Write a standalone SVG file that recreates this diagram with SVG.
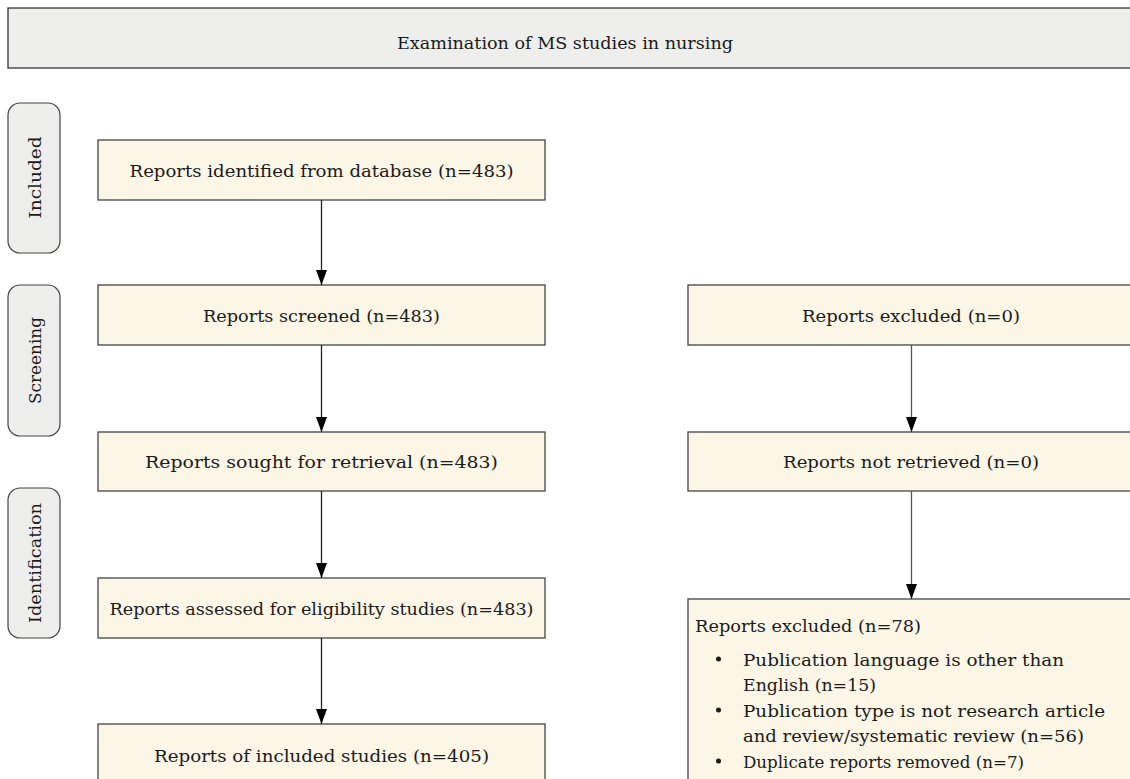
<svg xmlns="http://www.w3.org/2000/svg" width="1130" height="779" viewBox="0 0 1130 779">
  <style>
    .hdr { fill: #eeeeec; stroke: #333; stroke-width: 1.3; }
    .side { fill: #eeeeec; stroke: #444; stroke-width: 1.2; }
    .box { fill: #fcf6e7; stroke: #444; stroke-width: 1.3; }
    .t { font-family: "DejaVu Serif", "Liberation Serif", serif; font-size: 17.5px; fill: #1a1a1a; }
    .tc { text-anchor: middle; }
    .conn { stroke: #222; stroke-width: 1.3; fill: none; }
    .conn2 { stroke: #555; stroke-width: 1.3; fill: none; }
  </style>
  <defs>
    <marker id="arrd" markerUnits="userSpaceOnUse" markerWidth="16" markerHeight="12" refX="15" refY="6" orient="auto" viewBox="0 0 16 12">
      <path d="M0,0.5 L15,6 L0,11.5 Z" fill="#000"/>
    </marker>
  </defs>

  <g id="header">
    <rect class="hdr" x="8" y="8" width="1140" height="60"/>
    <text class="t tc" x="565" y="48.5" font-size="17" textLength="336" lengthAdjust="spacingAndGlyphs">Examination of MS studies in nursing</text>
  </g>

  <g id="stage-included">
    <rect class="side" x="8" y="103" width="52" height="150" rx="12" ry="12"/>
    <text class="t tc" transform="translate(40.5,177.5) rotate(-90)" font-size="16.5" textLength="82" lengthAdjust="spacingAndGlyphs">Included</text>
  </g>
  <g id="stage-screening">
    <rect class="side" x="8" y="285" width="52" height="151" rx="12" ry="12"/>
    <text class="t tc" transform="translate(40.5,360.5) rotate(-90)" font-size="16.5" textLength="87" lengthAdjust="spacingAndGlyphs">Screening</text>
  </g>
  <g id="stage-identification">
    <rect class="side" x="8" y="488" width="52" height="150" rx="12" ry="12"/>
    <text class="t tc" transform="translate(40.5,563) rotate(-90)" font-size="16.5" textLength="120" lengthAdjust="spacingAndGlyphs">Identification</text>
  </g>

  <g id="n-identified">
    <rect class="box" x="98" y="140" width="447" height="60"/>
    <text class="t tc" x="321.5" y="176.5" textLength="384" lengthAdjust="spacingAndGlyphs">Reports identified from database (n=483)</text>
  </g>
  <g id="n-screened">
    <rect class="box" x="98" y="285" width="447" height="60"/>
    <text class="t tc" x="321.5" y="321.5" textLength="237" lengthAdjust="spacingAndGlyphs">Reports screened (n=483)</text>
  </g>
  <g id="n-sought">
    <rect class="box" x="98" y="432" width="447" height="59"/>
    <text class="t tc" x="321.5" y="468" textLength="353" lengthAdjust="spacingAndGlyphs">Reports sought for retrieval (n=483)</text>
  </g>
  <g id="n-assessed">
    <rect class="box" x="98" y="578" width="447" height="60"/>
    <text class="t tc" x="321.5" y="614.5" textLength="424" lengthAdjust="spacingAndGlyphs">Reports assessed for eligibility studies (n=483)</text>
  </g>
  <g id="n-included">
    <rect class="box" x="98" y="724" width="447" height="70"/>
    <text class="t tc" x="321.5" y="761.5" textLength="335" lengthAdjust="spacingAndGlyphs">Reports of included studies (n=405)</text>
  </g>

  <g id="n-excluded0">
    <rect class="box" x="688" y="285" width="460" height="60"/>
    <text class="t tc" x="911" y="321.5" textLength="218" lengthAdjust="spacingAndGlyphs">Reports excluded (n=0)</text>
  </g>
  <g id="n-notretrieved">
    <rect class="box" x="688" y="432" width="460" height="59"/>
    <text class="t tc" x="911" y="468" textLength="256" lengthAdjust="spacingAndGlyphs">Reports not retrieved (n=0)</text>
  </g>
  <g id="n-excluded78">
    <rect class="box" x="688" y="599" width="460" height="200"/>
    <text class="t" x="695" y="632" textLength="226" lengthAdjust="spacingAndGlyphs">Reports excluded (n=78)</text>
    <circle cx="718.5" cy="659" r="2.5" fill="#1a1a1a"/>
    <text class="t" x="743" y="665.5" textLength="321" lengthAdjust="spacingAndGlyphs">Publication language is other than</text>
    <text class="t" x="743" y="690.5" textLength="133" lengthAdjust="spacingAndGlyphs">English (n=15)</text>
    <circle cx="718.5" cy="710" r="2.5" fill="#1a1a1a"/>
    <text class="t" x="743" y="716.5" textLength="362" lengthAdjust="spacingAndGlyphs">Publication type is not research article</text>
    <text class="t" x="743" y="742" textLength="341" lengthAdjust="spacingAndGlyphs">and review/systematic review (n=56)</text>
    <circle cx="718.5" cy="761" r="2.5" fill="#1a1a1a"/>
    <text class="t" x="743" y="767.5" textLength="281" lengthAdjust="spacingAndGlyphs">Duplicate reports removed (n=7)</text>
  </g>

  <g id="connectors">
    <line class="conn" x1="321.5" y1="200" x2="321.5" y2="285" marker-end="url(#arrd)"/>
    <line class="conn" x1="321.5" y1="345" x2="321.5" y2="432" marker-end="url(#arrd)"/>
    <line class="conn" x1="321.5" y1="491" x2="321.5" y2="578" marker-end="url(#arrd)"/>
    <line class="conn" x1="321.5" y1="638" x2="321.5" y2="724" marker-end="url(#arrd)"/>
    <line class="conn2" x1="911.5" y1="345" x2="911.5" y2="432" marker-end="url(#arrd)"/>
    <line class="conn2" x1="911.5" y1="491" x2="911.5" y2="599" marker-end="url(#arrd)"/>
  </g>
</svg>
